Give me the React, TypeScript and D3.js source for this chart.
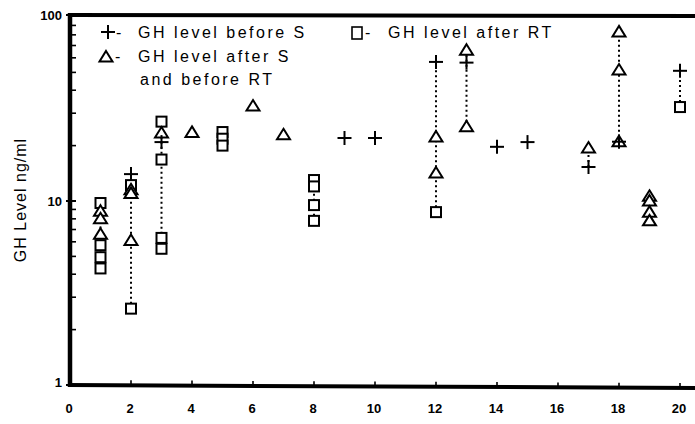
import React from "react";
import * as d3 from "d3";

// ---- data (patient number, GH level ng/ml) ----
const xTicks = [0, 2, 4, 6, 8, 10, 12, 14, 16, 18, 20];
const yTickLabels = [1, 10, 100];

const beforeS: [number, number][] = [
  [2, 14], [3, 20.9], [9, 22], [10, 22], [12, 57], [13, 56.5], [14, 19.7],
  [15, 20.9], [17, 15.3], [18, 21], [20, 51],
];
const afterS: [number, number][] = [
  [1, 8.8], [1, 8.0], [1, 6.6], [2, 11.5], [2, 11.0], [2, 6.1], [3, 23.4],
  [4, 23.6], [6, 32.8], [7, 22.9], [12, 22.3], [12, 14.2], [13, 66], [13, 25.3],
  [17, 19.4], [18, 83], [18, 51.5], [18, 21], [19, 10.6], [19, 10.0], [19, 8.7], [19, 7.8],
];
const afterRT: [number, number][] = [
  [1, 9.75], [1, 5.75], [1, 4.95], [1, 4.3], [2, 12.2], [2, 2.6], [3, 27],
  [3, 16.8], [3, 6.3], [3, 5.5], [5, 23.7], [5, 21.8], [5, 20], [8, 13], [8, 12],
  [8, 9.5], [8, 7.8], [12, 8.7], [20, 32.4],
];

const legendLabels = ["GH level before S", "GH level after S", "and before RT", "GH level after RT"];

const FONT = "'Liberation Sans', Arial, Helvetica, sans-serif";

export default function App() {
  const W = 695, H = 424;
  const x = d3.scaleLinear().domain([0, 20]).range([70, 680]);
  const y = d3.scaleLog().domain([1, 100]).range([385, 17]);
  const x0 = x(0), yBottom = y(1), yTop = 15;

  const minorTicks: number[] = [];
  [1, 10].forEach((d) => { for (let k = 2; k <= 9; k++) minorTicks.push(d * k); });

  // vertical dotted connectors per patient
  const all = [...beforeS, ...afterS, ...afterRT];
  const groups = d3.group(all, (d) => d[0]);
  const connectors: { p: number; lo: number; hi: number }[] = [];
  groups.forEach((pts, p) => {
    if (pts.length > 1) {
      const ext = d3.extent(pts, (d) => d[1]) as [number, number];
      connectors.push({ p, lo: ext[0], hi: ext[1] });
    }
  });

  const plus = (cx: number, cy: number, key: string) => (
    <g key={key} stroke="#000" strokeWidth={2}>
      <line x1={cx - 7} x2={cx + 7} y1={cy} y2={cy} />
      <line x1={cx} x2={cx} y1={cy - 7} y2={cy + 7} />
    </g>
  );
  const tri = (cx: number, cy: number, key: string) => (
    <path key={key} d={`M${cx},${cy - 6}L${cx + 6.5},${cy + 4.5}L${cx - 6.5},${cy + 4.5}Z`}
      fill="#fff" stroke="#000" strokeWidth={2} />
  );
  const sq = (cx: number, cy: number, key: string) => (
    <rect key={key} x={cx - 5} y={cy - 5} width={10} height={10} fill="#fff" stroke="#000" strokeWidth={2} />
  );

  const legendText = { fontFamily: FONT, fontSize: 16, letterSpacing: 2.5, fill: "#000" } as const;

  return (
    <svg width={W} height={H} style={{ position: "absolute", left: 0, top: 0, background: "#fff" }}>
      <rect width={W} height={H} fill="#fff" />
      {/* connectors */}
      {connectors.map((c) => (
        <line key={"c" + c.p} x1={x(c.p)} x2={x(c.p)} y1={y(c.lo)} y2={y(c.hi)}
          stroke="#000" strokeWidth={2} strokeDasharray="2,3" />
      ))}
      {/* markers */}
      {afterRT.map((d, i) => sq(x(d[0]), y(d[1]), "s" + i))}
      {afterS.map((d, i) => tri(x(d[0]), y(d[1]), "t" + i))}
      {beforeS.map((d, i) => plus(x(d[0]), y(d[1]), "p" + i))}

      {/* axes frame */}
      <line x1={x0} x2={x0} y1={yTop - 2} y2={yBottom + 2} stroke="#000" strokeWidth={4.5} />
      <line x1={x0 - 2} x2={W} y1={yBottom} y2={yBottom + 3} stroke="#000" strokeWidth={4} />
      <line x1={x0 - 2} x2={W} y1={yTop} y2={yTop + 1} stroke="#000" strokeWidth={4} />

      {/* y ticks */}
      {minorTicks.map((t) => (
        <line key={"m" + t} x1={x0 + 2} x2={x0 + 6} y1={y(t)} y2={y(t)} stroke="#000" strokeWidth={1.6} />
      ))}
      {yTickLabels.map((t) => (
        <g key={"yl" + t}>
          <line x1={x0 - 4} x2={x0 + 6} y1={t === 100 ? yTop : y(t)} y2={t === 100 ? yTop : y(t)} stroke="#000" strokeWidth={2} />
          <text x={62} y={(t === 100 ? yTop : t === 1 ? y(t) - 3 : y(t)) + 5} textAnchor="end"
            fontFamily={FONT} fontWeight="bold" fontSize={13}>{t}</text>
        </g>
      ))}

      {/* x ticks */}
      {xTicks.map((t) => (
        <g key={"x" + t}>
          {t > 0 && <line x1={x(t)} x2={x(t)} y1={yBottom - 5 + t * 0.15} y2={yBottom + t * 0.15} stroke="#000" strokeWidth={1.6} />}
          <text x={x(t) - 1} y={413} textAnchor="middle" fontFamily={FONT} fontWeight="bold" fontSize={13}>{t}</text>
        </g>
      ))}

      {/* y title */}
      <text transform="translate(26,200) rotate(-90)" textAnchor="middle" fontFamily={FONT}
        fontSize={16} letterSpacing={1}>GH Level ng/ml</text>

      {/* legend */}
      {plus(108, 32, "lp")}
      <text x={116} y={38} {...legendText}>-</text>
      <text x={138} y={38} {...legendText}>{legendLabels[0]}</text>
      {tri(106, 57, "lt")}
      <text x={115} y={62} {...legendText}>-</text>
      <text x={138} y={62} {...legendText}>{legendLabels[1]}</text>
      <text x={140} y={85} {...legendText}>{legendLabels[2]}</text>
      <rect x={352} y={27} width={10} height={12} fill="#fff" stroke="#000" strokeWidth={1.6} />
      <text x={365} y={38} {...legendText}>-</text>
      <text x={388} y={38} {...legendText}>{legendLabels[3]}</text>
    </svg>
  );
}
